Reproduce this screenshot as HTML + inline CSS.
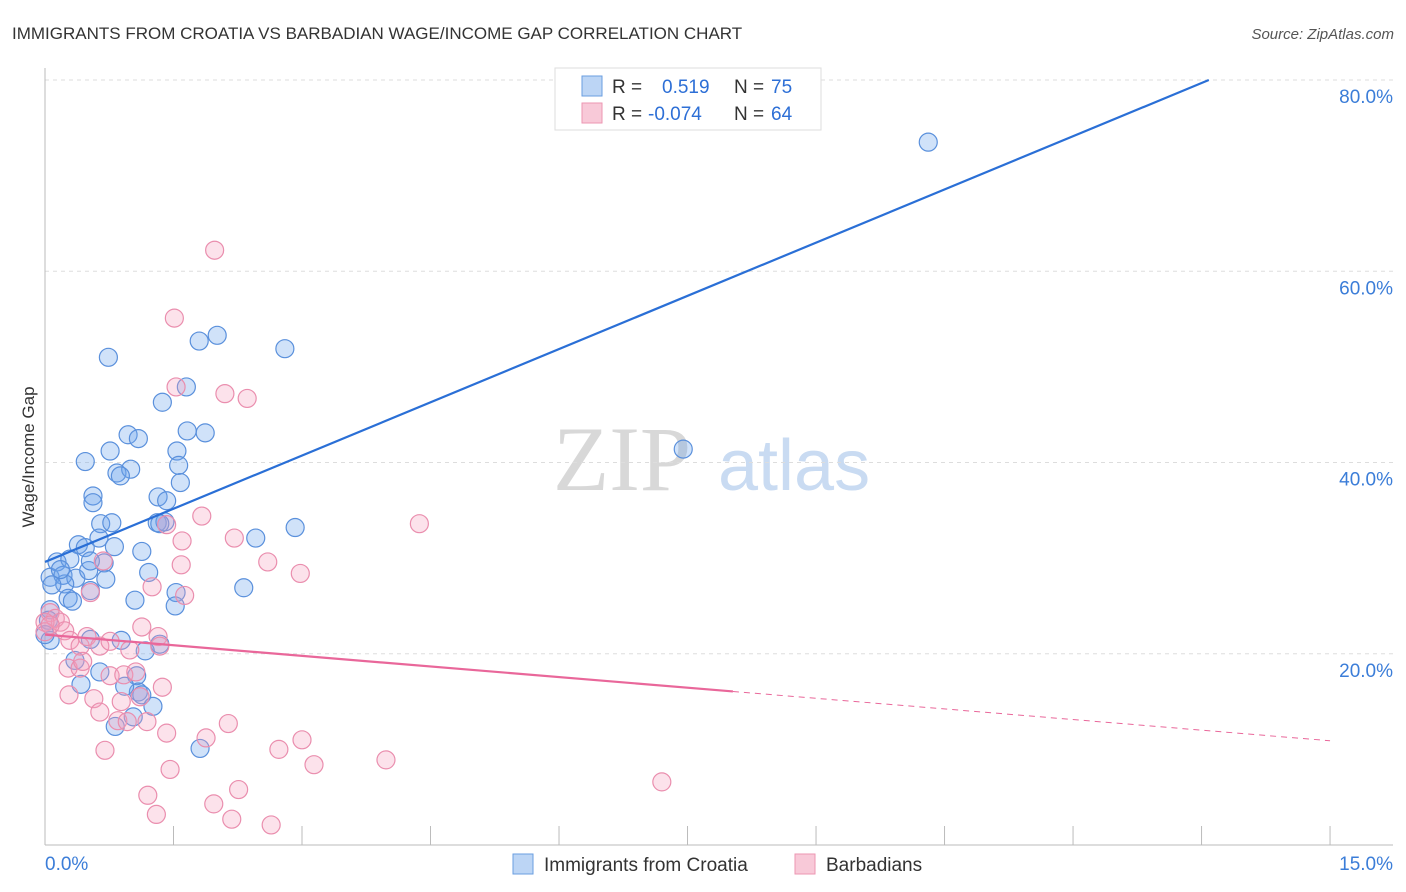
<!DOCTYPE html>
<html><head><meta charset="utf-8">
<style>
body{margin:0;background:#fff;font-family:"Liberation Sans",sans-serif;}
#wrap{position:relative;width:1406px;height:892px;overflow:hidden;}
</style></head>
<body>
<div id="wrap">
<svg id="svg" width="1406" height="892" xmlns="http://www.w3.org/2000/svg">
<text x="12" y="39" font-size="17" fill="#333">IMMIGRANTS FROM CROATIA VS BARBADIAN WAGE/INCOME GAP CORRELATION CHART</text>
<text x="1394" y="39" font-size="15" fill="#555" font-style="italic" text-anchor="end">Source: ZipAtlas.com</text>
<text x="34" y="457" font-size="17" fill="#333" text-anchor="middle" transform="rotate(-90 34 457)">Wage/Income Gap</text>
<g>
<text x="553" y="490" font-size="92" font-family="Liberation Serif,serif" fill="#d8d8d8">ZIP</text>
<text x="718" y="490" font-size="72" fill="#c9dbf2">atlas</text>
</g>
<g id="grid"></g><g id="axes"></g><g id="pts"></g><g id="lines"></g>
<g>
<rect x="555" y="68" width="266" height="62" fill="#fff" stroke="#ddd"/>
<rect x="582" y="76" width="20" height="20" fill="#bcd5f5" stroke="#6a9ee0"/>
<rect x="582" y="103" width="20" height="20" fill="#f8c9d8" stroke="#ec96b2"/>
<text x="612" y="93" font-size="19" fill="#333">R = </text><text x="662" y="93" font-size="19" fill="#2d6fd6">0.519</text>
<text x="734" y="93" font-size="19" fill="#333">N = </text><text x="771" y="93" font-size="19" fill="#2d6fd6">75</text>
<text x="612" y="120" font-size="19" fill="#333">R = </text><text x="648" y="120" font-size="19" fill="#2d6fd6">-0.074</text>
<text x="734" y="120" font-size="19" fill="#333">N = </text><text x="771" y="120" font-size="19" fill="#2d6fd6">64</text>
</g>
<g>
<rect x="513" y="854" width="20" height="20" fill="#bcd5f5" stroke="#6a9ee0"/>
<text x="544" y="871" font-size="19" fill="#333">Immigrants from Croatia</text>
<rect x="795" y="854" width="20" height="20" fill="#f8c9d8" stroke="#ec96b2"/>
<text x="826" y="871" font-size="19" fill="#333">Barbadians</text>
</g>
</svg>
</div>
<script>
const yTicks=[20,40,60,80];
const yTickLabels=["20.0%","40.0%","60.0%","80.0%"];
const xTicks=[1.5,3,4.5,6,7.5,9,10.5,12,13.5,15];
const xEndLabels=["0.0%","15.0%"];
const blueX=[10.31,7.45,0.74,1.80,2.01,2.80,1.65,1.37,0.76,0.97,1.09,1.66,1.87,0.47,0.84,1.00,0.88,1.54,1.56,1.58,0.56,0.56,1.32,1.42,0.65,0.78,1.31,1.40,0.39,0.63,0.81,1.13,0.47,0.14,0.29,0.69,2.92,2.46,0.06,0.21,0.36,0.23,0.71,0.51,1.21,1.53,1.52,1.05,0.27,0.32,0.53,2.32,0.06,0.04,0.06,0.53,1.34,0.89,1.17,0.35,0.64,1.07,1.09,1.13,0.93,1.26,0.42,0.82,1.81,1.03,1.34,0.08,0.18,0.00,0.53];
const blueY=[73.5,41.4,51.0,52.7,53.3,51.9,47.9,46.3,41.2,42.9,42.5,43.3,43.1,40.1,38.9,39.3,38.6,41.2,39.7,37.9,36.5,35.8,36.4,36.0,33.6,33.7,33.7,33.8,31.4,32.1,31.2,30.7,31.1,29.6,29.9,29.5,33.2,32.1,28.0,28.2,27.9,27.3,27.8,28.7,28.5,26.4,25.0,25.6,25.8,25.5,26.6,26.9,24.6,23.5,21.4,21.5,21.0,21.4,20.3,19.3,18.1,17.7,16.0,15.7,16.6,14.5,16.8,12.4,10.1,13.4,33.6,27.2,28.8,22.0,29.7];
const pinkX=[1.98,1.51,1.53,2.10,2.36,4.37,1.83,1.60,2.21,2.60,2.98,1.59,0.68,0.53,1.25,1.63,1.42,0.06,0.12,0.18,0.23,0.00,0.29,0.41,0.49,0.64,0.76,0.99,1.13,1.32,1.34,0.27,0.41,0.57,0.44,0.76,0.92,1.06,1.11,0.89,0.28,0.64,0.85,0.96,1.19,1.37,1.42,1.88,2.14,2.73,3.00,3.14,3.98,0.70,1.46,1.20,1.30,1.97,2.18,2.26,2.64,7.20,0.00,0.06];
const pinkY=[62.2,55.1,47.9,47.2,46.7,33.6,34.4,31.8,32.1,29.6,28.4,29.3,29.7,26.4,27.0,26.1,33.5,24.3,23.7,23.3,22.4,23.3,21.4,20.8,21.8,20.8,21.3,20.4,22.8,21.8,20.8,18.5,18.5,15.3,19.2,17.7,17.8,18.1,15.5,15.0,15.7,13.9,13.0,12.9,12.9,16.5,11.7,11.2,12.7,10.0,11.0,8.4,8.9,9.9,7.9,5.2,3.2,4.3,2.7,5.8,2.1,6.6,22.3,23.0];
const blueTrend=[29.6,3.71];       // intercept, slope
const pinkTrend=[22.0,-0.74];
const pinkSolidEnd=8.03;

const NS="http://www.w3.org/2000/svg";
const X0=45,XS=85.67,Y0=845,YS=9.5625;
const sx=v=>X0+v*XS, sy=v=>Y0-v*YS;
function mk(tag,attrs,parent){const e=document.createElementNS(NS,tag);for(const k in attrs)e.setAttribute(k,attrs[k]);parent.appendChild(e);return e;}
const grid=document.getElementById('grid'),axes=document.getElementById('axes'),pts=document.getElementById('pts'),lines=document.getElementById('lines');
yTicks.forEach((t,i)=>{
  const l=mk('line',{x1:45,x2:1393,y1:sy(t),y2:sy(t),stroke:'#ddd','stroke-dasharray':'4,4'},grid);
  
  
  const tx=mk('text',{x:1393,y:sy(t)+23,'font-size':19,fill:'#3b7dd8','text-anchor':'end'},axes);
  tx.textContent=yTickLabels[i];
  
  
});
const ax=mk('line',{x1:45,x2:1393,y1:845,y2:845,stroke:'#bbb'},axes);


const ay=mk('line',{x1:45,x2:45,y1:68,y2:845,stroke:'#bbb'},axes);


xTicks.forEach(t=>{
  const l=mk('line',{x1:sx(t),x2:sx(t),y1:826,y2:845,stroke:'#bbb'},axes);
  
  
});
const xl0=mk('text',{x:45,y:870,'font-size':19,fill:'#3b7dd8'},axes);xl0.textContent=xEndLabels[0];


const xl1=mk('text',{x:1393,y:870,'font-size':19,fill:'#3b7dd8','text-anchor':'end'},axes);xl1.textContent=xEndLabels[1];


blueX.forEach((x,i)=>{
  const c=mk('circle',{cx:sx(x),cy:sy(blueY[i]),r:9,fill:'rgba(110,165,235,0.32)',stroke:'#5a90dc','stroke-width':1.2},pts);
  
  
});
pinkX.forEach((x,i)=>{
  const c=mk('circle',{cx:sx(x),cy:sy(pinkY[i]),r:9,fill:'rgba(245,160,190,0.3)',stroke:'#ea8eae','stroke-width':1.2},pts);
  
  
});
const bxEnd=(80-blueTrend[0])/blueTrend[1];
const bl=mk('line',{x1:sx(0),y1:sy(blueTrend[0]),x2:sx(bxEnd),y2:sy(80),stroke:'#2a6fd6','stroke-width':2.2},lines);


const pl=mk('line',{x1:sx(0),y1:sy(pinkTrend[0]),x2:sx(pinkSolidEnd),y2:sy(pinkTrend[0]+pinkTrend[1]*pinkSolidEnd),stroke:'#e9679a','stroke-width':2.2},lines);


const pd=mk('line',{x1:sx(pinkSolidEnd),y1:sy(pinkTrend[0]+pinkTrend[1]*pinkSolidEnd),x2:sx(15),y2:sy(pinkTrend[0]+pinkTrend[1]*15),stroke:'#e9679a','stroke-width':1,'stroke-dasharray':'6,5'},lines);


</script>
</body></html>
